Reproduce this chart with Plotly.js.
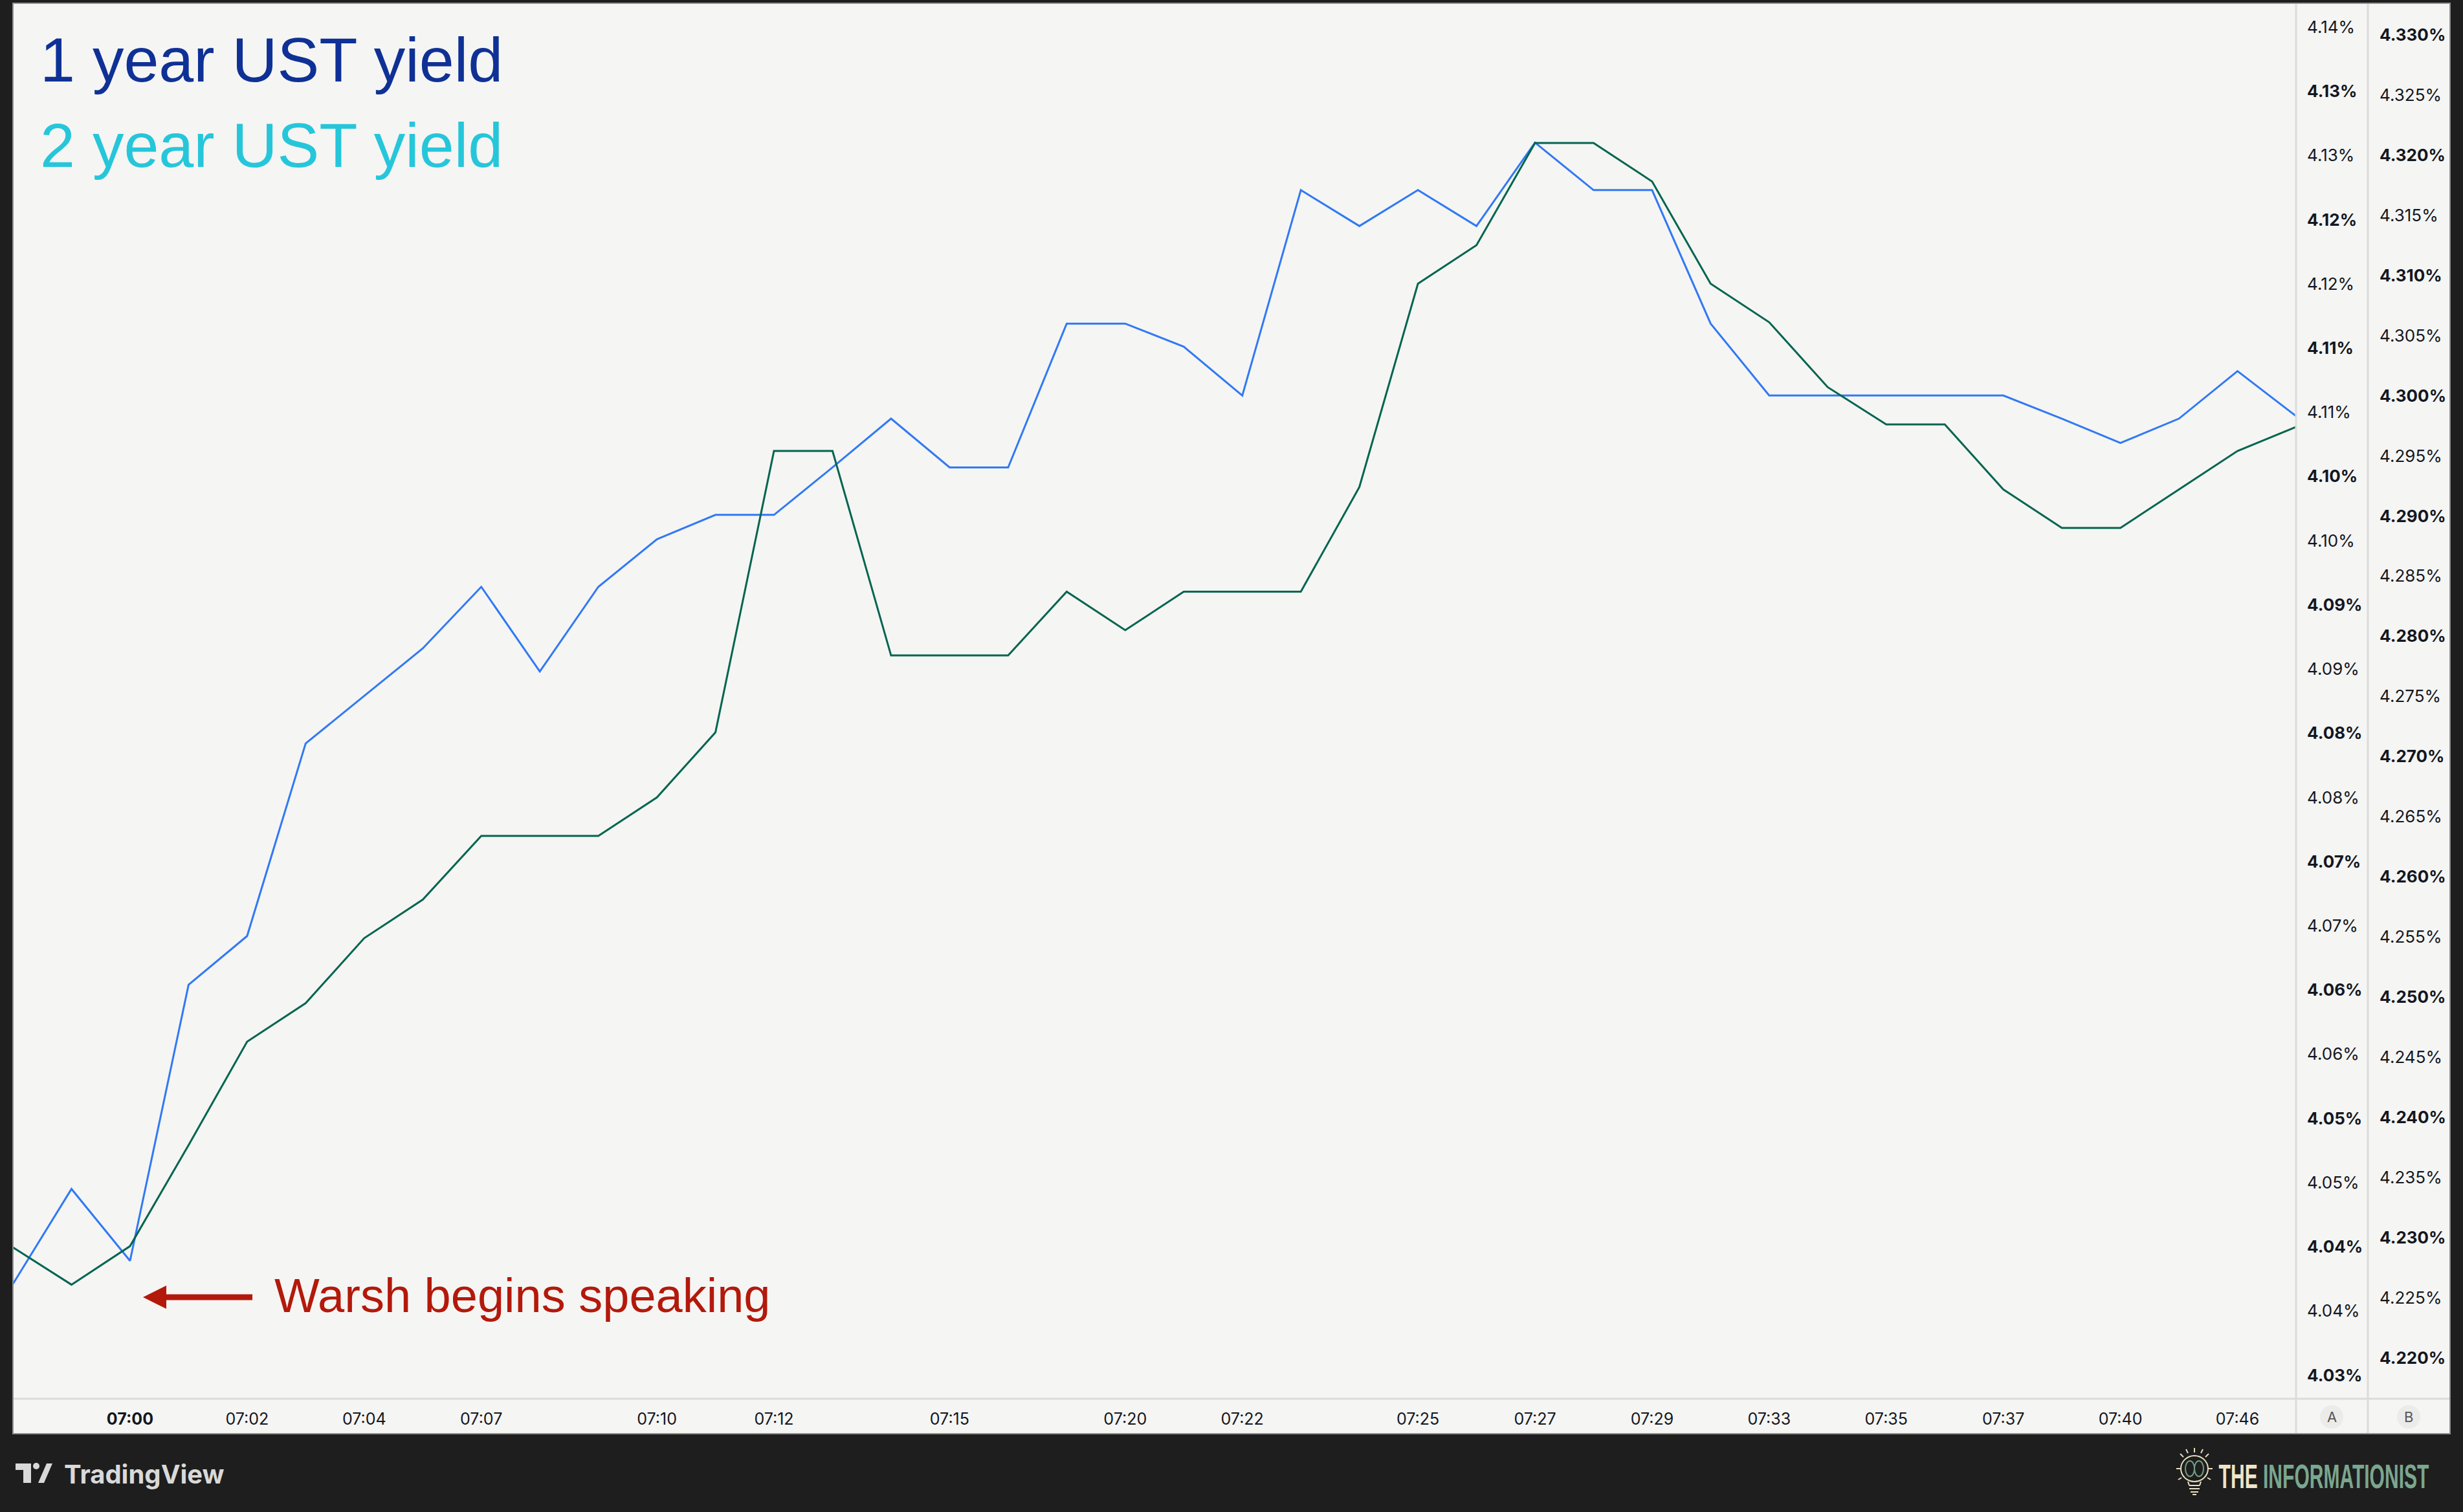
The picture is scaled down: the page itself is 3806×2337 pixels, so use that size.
<!DOCTYPE html>
<html>
<head>
<meta charset="utf-8">
<script src="https://cdn.plot.ly/plotly-3.0.1.min.js"></script>
<style>
  html, body { margin: 0; padding: 0; background: #1e1e1e; }
  #chart { width: 3806px; height: 2337px; }
</style>
</head>
<body>
<div id="chart"></div>
<script>
// ---------------- DATA ----------------
const pointIndex = [0,1,2,3,4,5,6,7,8,9,10,11,12,13,14,15,16,17,18,19,20,21,22,23,24,25,26,27,28,29,30,31,32,33,34,35,36,37,38,39];

const oneYearYield = [
  4.0371, 4.0445, 4.0389, 4.0604, 4.0642, 4.0792, 4.0829, 4.0866, 4.0914, 4.0848,
  4.0914, 4.0951, 4.0970, 4.0970, 4.1007, 4.1045, 4.1007, 4.1007, 4.1119, 4.1119,
  4.1101, 4.1063, 4.1223, 4.1195, 4.1223, 4.1195, 4.1260, 4.1223, 4.1223, 4.1119,
  4.1063, 4.1063, 4.1063, 4.1063, 4.1063, 4.1045, 4.1026, 4.1045, 4.1082, 4.1047
];

const twoYearYield = [
  4.2292, 4.2261, 4.2293, 4.2377, 4.2463, 4.2495, 4.2549, 4.2581, 4.2634, 4.2634,
  4.2634, 4.2666, 4.2720, 4.2954, 4.2954, 4.2784, 4.2784, 4.2784, 4.2837, 4.2805,
  4.2837, 4.2837, 4.2837, 4.2924, 4.3093, 4.3125, 4.3210, 4.3210, 4.3178, 4.3093,
  4.3061, 4.3007, 4.2976, 4.2976, 4.2922, 4.2890, 4.2890, 4.2922, 4.2954, 4.2974
];

const timeTickIndex = [2, 4, 6, 8, 11, 13, 16, 19, 21, 24, 26, 28, 30, 32, 34, 36, 38];
const timeTickLabels = ['07:00','07:02','07:04','07:07','07:10','07:12','07:15','07:20','07:22','07:25','07:27','07:29','07:33','07:35','07:37','07:40','07:46'];

const oneYearTickValues = [4.030,4.035,4.040,4.045,4.050,4.055,4.060,4.065,4.070,4.075,4.080,4.085,4.090,4.095,4.100,4.105,4.110,4.115,4.120,4.125,4.130,4.135];
const oneYearTickLabels = ['4.03%','4.04%','4.04%','4.05%','4.05%','4.06%','4.06%','4.07%','4.07%','4.08%','4.08%','4.09%','4.09%','4.10%','4.10%','4.11%','4.11%','4.12%','4.12%','4.13%','4.13%','4.14%'];

const twoYearTickValues = [4.220,4.225,4.230,4.235,4.240,4.245,4.250,4.255,4.260,4.265,4.270,4.275,4.280,4.285,4.290,4.295,4.300,4.305,4.310,4.315,4.320,4.325,4.330];
const twoYearTickLabels = ['4.220%','4.225%','4.230%','4.235%','4.240%','4.245%','4.250%','4.255%','4.260%','4.265%','4.270%','4.275%','4.280%','4.285%','4.290%','4.295%','4.300%','4.305%','4.310%','4.315%','4.320%','4.325%','4.330%'];

const seriesNames = ['1 year UST yield', '2 year UST yield'];
const annotationText = 'Warsh begins speaking';

// ---------------- helpers (layout geometry) ----------------
const W = 3806, H = 2337;
const ML = 20, MR = 20, MT = 5, MB = 175;
const PW = W - ML - MR, PH = H - MT - MB;
const px = v => (v - ML) / PW;          // pixel x -> paper x
const py = v => (H - MB - v) / PH;      // pixel y -> paper y

const isWhole = (v, step) => Math.abs(Math.round(v / step) * step - v) < 1e-7;
const boldify = (vals, labels, step) => labels.map((t, i) => isWhole(vals[i], step) ? '<b>' + t + '</b>' : t);
const timeText = timeTickLabels.map((t, i) => i === 0 ? '<b>' + t + '</b>' : t);

const tickFont = { family: 'Inter, "Liberation Sans", Arial, sans-serif', size: 25, color: '#131722' };

const traces = [
  {
    x: pointIndex, y: oneYearYield, yaxis: 'y', type: 'scatter', mode: 'lines',
    name: seriesNames[0], line: { color: '#3179f5', width: 3 }, hoverinfo: 'skip'
  },
  {
    x: pointIndex, y: twoYearYield, yaxis: 'y2', type: 'scatter', mode: 'lines',
    name: seriesNames[1], line: { color: '#03654f', width: 3 }, hoverinfo: 'skip'
  }
];

const lightPanel = '#f5f5f3';
const sep = '#dcdcdc';
const cream = '#e8dfc0';
const sage = '#6f9e86';

const tvIcon = 'M' + px(24) + ',' + py(2262) + ' L' + px(48) + ',' + py(2262) + ' L' + px(48) + ',' + py(2292) +
  ' L' + px(36) + ',' + py(2292) + ' L' + px(36) + ',' + py(2272) + ' L' + px(24) + ',' + py(2272) + ' Z';
const tvSlash = 'M' + px(59) + ',' + py(2292) + ' L' + px(68) + ',' + py(2292) + ' L' + px(81) + ',' + py(2262) +
  ' L' + px(72) + ',' + py(2262) + ' Z';

const P = (x0, y0, x1, y1, color, w) => ({ type: 'line', xref: 'paper', yref: 'paper',
  x0: px(x0), x1: px(x1), y0: py(y0), y1: py(y1), line: { color: color, width: w } });

const shapes = [
  // light panel
  { type: 'rect', xref: 'paper', yref: 'paper', x0: px(20), x1: px(3786), y0: py(2216), y1: py(5),
    fillcolor: lightPanel, line: { width: 0 }, layer: 'below' },
  // separators
  P(3548, 5, 3548, 2216, sep, 3),
  P(3659, 5, 3659, 2216, sep, 3),
  P(20, 2162, 3786, 2162, sep, 3),
  // panel border
  { type: 'rect', xref: 'paper', yref: 'paper', x0: px(20), x1: px(3786), y0: py(2216), y1: py(5),
    line: { color: '#8e8e8e', width: 2 }, fillcolor: 'rgba(0,0,0,0)' },
  // A / B badges
  { type: 'circle', xref: 'paper', yref: 'paper', x0: px(3585), x1: px(3621), y0: py(2208), y1: py(2172),
    fillcolor: '#ebebe9', line: { width: 0 } },
  { type: 'circle', xref: 'paper', yref: 'paper', x0: px(3704), x1: px(3740), y0: py(2208), y1: py(2172),
    fillcolor: '#ebebe9', line: { width: 0 } },
  // TradingView logo
  { type: 'path', xref: 'paper', yref: 'paper', path: tvIcon, fillcolor: '#d9d9d9', line: { width: 0 } },
  { type: 'circle', xref: 'paper', yref: 'paper', x0: px(51), x1: px(61), y0: py(2271), y1: py(2261), fillcolor: '#d9d9d9', line: { width: 0 } },
  { type: 'path', xref: 'paper', yref: 'paper', path: tvSlash, fillcolor: '#d9d9d9', line: { width: 0 } },
  // Informationist bulb
  { type: 'circle', xref: 'paper', yref: 'paper', x0: px(3370), x1: px(3412), y0: py(2290), y1: py(2250),
    fillcolor: 'rgba(0,0,0,0)', line: { color: cream, width: 2 } },
  { type: 'circle', xref: 'paper', yref: 'paper', x0: px(3377), x1: px(3391), y0: py(2282), y1: py(2258),
    fillcolor: 'rgba(0,0,0,0)', line: { color: sage, width: 2 } },
  { type: 'circle', xref: 'paper', yref: 'paper', x0: px(3391), x1: px(3405), y0: py(2282), y1: py(2258),
    fillcolor: 'rgba(0,0,0,0)', line: { color: sage, width: 2 } },
  P(3381, 2290, 3383, 2296, cream, 2),
  P(3401, 2290, 3399, 2296, cream, 2),
  P(3383, 2296, 3399, 2296, cream, 2),
  P(3383, 2301, 3399, 2301, cream, 2),
  P(3385, 2306, 3397, 2306, cream, 2),
  P(3388, 2310, 3394, 2310, cream, 2),
  P(3391, 2238, 3391, 2245, cream, 2),
  P(3363, 2270, 3369, 2270, cream, 2),
  P(3413, 2270, 3419, 2270, cream, 2),
  P(3369, 2247, 3374, 2252, cream, 2),
  P(3413, 2247, 3408, 2252, cream, 2),
  P(3378, 2240, 3381, 2246, cream, 2),
  P(3404, 2240, 3401, 2246, cream, 2),
  P(3366, 2287, 3371, 2284, cream, 2),
  P(3416, 2287, 3411, 2284, cream, 2)
];

const annotations = [
  { xref: 'paper', yref: 'paper', x: px(60), y: py(126 - 33), xanchor: 'left', yanchor: 'middle', showarrow: false,
    text: seriesNames[0], font: { family: '"Liberation Sans", Arial, sans-serif', size: 97, color: '#0f3196' } },
  { xref: 'paper', yref: 'paper', x: px(60), y: py(257 - 33), xanchor: 'left', yanchor: 'middle', showarrow: false,
    text: seriesNames[1], font: { family: '"Liberation Sans", Arial, sans-serif', size: 97, color: '#26c6da' } },
  { xref: 'paper', yref: 'paper', x: px(422), y: py(2028 - 26), xanchor: 'left', yanchor: 'middle', showarrow: false,
    text: annotationText, font: { family: '"Liberation Sans", Arial, sans-serif', size: 74, color: '#b3190b' } },
  { xref: 'paper', yref: 'paper', x: px(221), y: py(2005), text: ' ', showarrow: true,
    ax: 172, ay: 0, arrowhead: 2, arrowsize: 0.8, arrowwidth: 9, arrowcolor: '#b3190b', standoff: 0, startstandoff: 0 },
  { xref: 'paper', yref: 'paper', x: px(3603), y: py(2190), xanchor: 'center', yanchor: 'middle', text: 'A', showarrow: false,
    font: { family: 'Inter, "Liberation Sans", sans-serif', size: 22, color: '#555555' } },
  { xref: 'paper', yref: 'paper', x: px(3722), y: py(2190), xanchor: 'center', yanchor: 'middle', text: 'B', showarrow: false,
    font: { family: 'Inter, "Liberation Sans", sans-serif', size: 22, color: '#555555' } },
  { xref: 'paper', yref: 'paper', x: px(97), y: py(2278), xanchor: 'left', yanchor: 'middle', showarrow: false,
    text: '<b>TradingView</b>', font: { family: 'Inter, "Liberation Sans", sans-serif', size: 40, color: '#d9d9d9' } },
  { xref: 'paper', yref: 'paper', x: px(3756), y: py(2282), xanchor: 'right', yanchor: 'middle', showarrow: false,
    text: '<b><span style="color:#efe5c6">THE </span>INFORMATIONIST</b>',
    font: { family: '"Liberation Sans", Arial, sans-serif', size: 52, color: '#7ba68f' } }
];

const layout = {
  width: W, height: H,
  margin: { l: ML, r: MR, t: MT, b: MB, pad: 0 },
  paper_bgcolor: '#1e1e1e',
  plot_bgcolor: 'rgba(0,0,0,0)',
  showlegend: false,
  xaxis: {
    domain: [0, px(3548)], range: [0, 39], showgrid: false, zeroline: false, showline: false,
    tickmode: 'array', tickvals: timeTickIndex, ticktext: timeText, ticks: '',
    ticklabelstandoff: 14, tickfont: tickFont, fixedrange: true
  },
  yaxis: {
    domain: [0, 1], range: [4.028157, 4.136854], side: 'right', anchor: 'x',
    showgrid: false, zeroline: false, showline: false, ticks: '',
    tickmode: 'array', tickvals: oneYearTickValues, ticktext: boldify(oneYearTickValues, oneYearTickLabels, 0.01),
    ticklabelstandoff: 16, tickfont: { ...tickFont, size: 26 }, fixedrange: true
  },
  yaxis2: {
    overlaying: 'y', range: [4.216615, 4.332614], side: 'right', anchor: 'free', position: px(3659),
    showgrid: false, zeroline: false, showline: false, ticks: '',
    tickmode: 'array', tickvals: twoYearTickValues, ticktext: boldify(twoYearTickValues, twoYearTickLabels, 0.01),
    ticklabelstandoff: 17, tickfont: { ...tickFont, size: 26 }, fixedrange: true
  },
  shapes: shapes,
  annotations: annotations
};

Plotly.newPlot('chart', traces, layout, { displayModeBar: false, staticPlot: true }).then(gd => {
  // condense the wordmark text horizontally to match the narrow logo typeface
  gd.querySelectorAll('text.annotation-text').forEach(t => {
    if (t.textContent.indexOf('INFORMATIONIST') >= 0) {
      const bb = t.getBBox();
      const targetWidth = 3756 - 3431;
      const s = Math.min(1, targetWidth / bb.width);
      const right = bb.x + bb.width;
      t.setAttribute('transform', 'translate(' + (right * (1 - s)) + ',0) scale(' + s + ',1)');
    }
  });
});
</script>
</body>
</html>
